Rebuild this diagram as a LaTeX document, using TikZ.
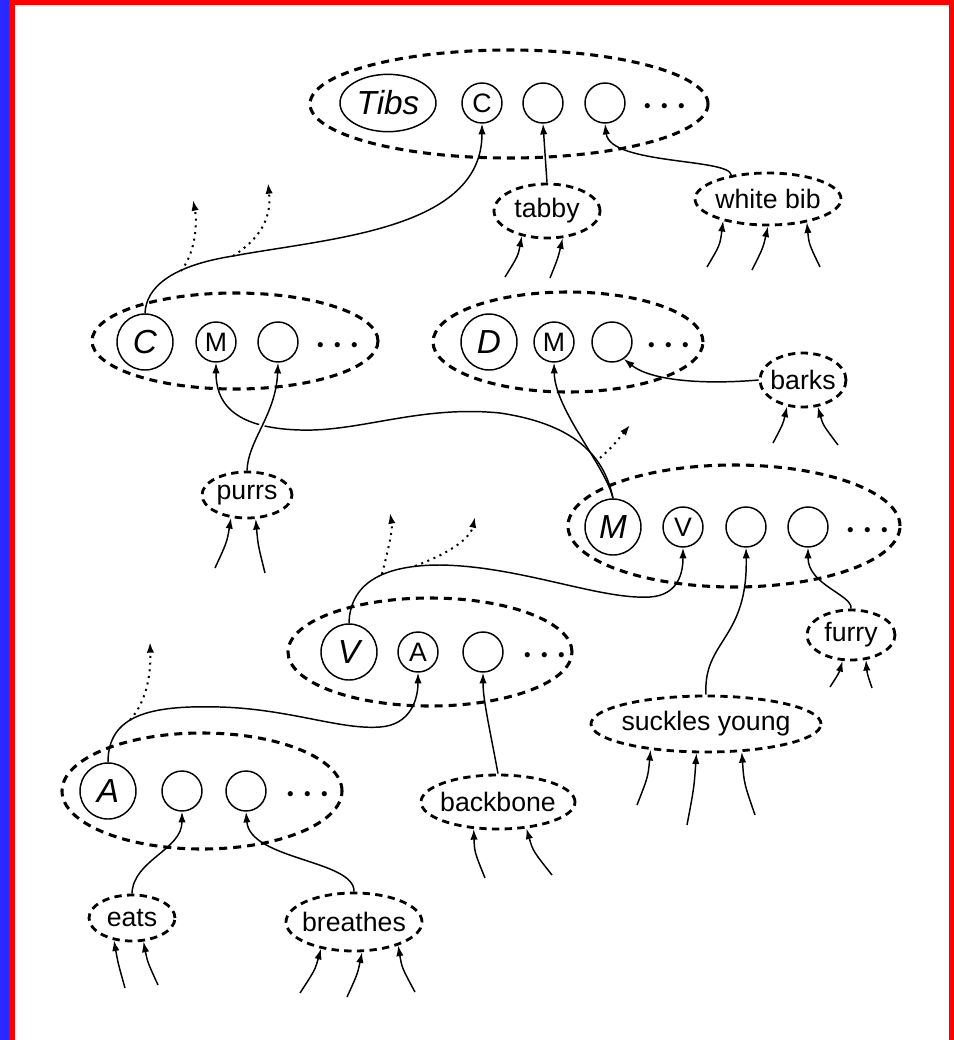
\documentclass[tikz,border=0pt]{standalone}
\usepackage{fontspec}
\setmainfont{Liberation Sans}
\usetikzlibrary{arrows.meta,shapes.geometric}
\definecolor{edgeblue}{RGB}{40,40,255}
\begin{document}
\begin{tikzpicture}[x=0.75pt,y=-0.75pt,
  grp/.style={draw, ellipse, line width=2.3pt, dash pattern=on 6pt off 4.5pt, inner sep=0pt},
  lbl/.style={draw, ellipse, line width=2.1pt, dash pattern=on 5.5pt off 4pt, inner xsep=-3pt, inner ysep=0pt, font=\fontsize{20}{24}\selectfont},
  big/.style={draw, circle, line width=1.1pt, minimum size=42pt, inner sep=0pt, font=\fontsize{25}{30}\selectfont\itshape},
  sm/.style={draw, circle, line width=1.1pt, minimum size=30pt, inner sep=0pt, font=\fontsize{20}{24}\selectfont},
  dts/.style={inner sep=0pt, font=\fontsize{33}{38}\selectfont\boldmath},
  conn/.style={line width=1.1pt, -{Latex[length=8pt,width=5.5pt]}},
  dotarr/.style={line width=1.5pt, dash pattern=on 1.5pt off 3.5pt, -{Latex[length=8pt,width=5.5pt]}},
]
\useasboundingbox (0,0) rectangle (954,1040);
\fill[edgeblue] (0,0) rectangle (9,1040);
\fill[red] (9,0) rectangle (15,1040);
\fill[red] (9,0) rectangle (954,5);
\fill[red] (949,0) rectangle (954,1040);

% Tibs group
\node[grp, minimum width=298.5pt, minimum height=81pt] (gT) at (509,104) {};
\node[draw, ellipse, line width=1.1pt, minimum width=72pt, minimum height=43pt, inner sep=0pt, font=\fontsize{25}{30}\selectfont\itshape] (tibs) at (388,103) {Tibs};
\node[sm] (tC) at (482,103) {C};
\node[sm] (t2) at (543,103) {};
\node[sm] (t3) at (605,103) {};
\node[dts] (tdots) at (665,107) {$\cdots$};

% C group
\node[grp, minimum width=214.5pt, minimum height=72pt] (gC) at (235,341) {};
\node[big] (cC) at (145,342) {C};
\node[sm] (cM) at (216,342) {M};
\node[sm] (c3) at (278,342) {};
\node[dts] (cdots) at (338,346) {$\cdots$};

% D group
\node[grp, minimum width=202.5pt, minimum height=75pt] (gD) at (568,342) {};
\node[big] (dD) at (489,342) {D};
\node[sm] (dM) at (554,342) {M};
\node[sm] (d3) at (612,342) {};
\node[dts] (ddots) at (669,346) {$\cdots$};

% M group
\node[grp, minimum width=249pt, minimum height=91.5pt] (gM) at (734,526) {};
\node[big] (mM) at (613,527) {M};
\node[sm] (mV) at (683,527) {V};
\node[sm] (m3) at (746,527) {};
\node[sm] (m4) at (808,527) {};
\node[dts] (mdots) at (868,531) {$\cdots$};

% V group
\node[grp, minimum width=213pt, minimum height=81pt] (gV) at (430,652) {};
\node[big] (vV) at (349,652) {V};
\node[sm] (vA) at (418,652) {A};
\node[sm] (v3) at (483,652) {};
\node[dts] (vdots) at (545,656) {$\cdots$};

% A group
\node[grp, minimum width=210pt, minimum height=87pt] (gA) at (202,791) {};
\node[big] (aA) at (108,791) {A};
\node[sm] (a2) at (182,791) {};
\node[sm] (a3) at (246,791) {};
\node[dts] (adots) at (308,795) {$\cdots$};

% property labels
\node[lbl, minimum width=79.5pt, minimum height=40.5pt] (tabby) at (547,211) {tabby};
\node[lbl, minimum width=109.5pt, minimum height=39pt] (wbib) at (768,199) {white bib};
\node[lbl, minimum width=64.5pt, minimum height=40.5pt] (barks) at (803,380) {barks};
\node[lbl, minimum width=67.5pt, minimum height=34.5pt] (purrs) at (247,495) {purrs};
\node[lbl, minimum width=66pt, minimum height=37.5pt] (furry) at (851,635) {furry};
\node[lbl, minimum width=172.5pt, minimum height=42pt] (suckles) at (706,724) {suckles young};
\node[lbl, minimum width=115.5pt, minimum height=40.5pt] (backbone) at (498,802) {backbone};
\node[lbl, minimum width=64.5pt, minimum height=34.5pt] (eats) at (132,918) {eats};
\node[lbl, minimum width=102pt, minimum height=43.5pt] (breathes) at (354,922) {breathes};

% main connectors
\draw[conn] (cC.north) .. controls (146,288) and (170,266) .. (233,256) .. controls (330,238) and (482,230) .. (tC.south);
\draw[conn] (tabby.north) -- (t2.south);
\draw[conn] (wbib.147) .. controls (730,158) and (610,165) .. (t3.south);
\draw[conn] (mM.north) .. controls (605,460) and (580,425) .. (500,413) .. controls (420,405) and (360,432) .. (300,430) .. controls (230,428) and (216,400) .. (cM.south);
\draw[conn] (mM.north) .. controls (605,465) and (555,410) .. (dM.south);
\draw[white, line width=4pt] (258.4,433.2) -- (265.6,416.8);
\draw[conn] (purrs.north) .. controls (248,440) and (276,415) .. (c3.south);
\draw[conn] (barks.west) .. controls (700,385) and (650,380) .. (d3.-55);
\draw[conn] (vV.north) .. controls (350,585) and (380,565) .. (440,565) .. controls (520,566) and (600,600) .. (650,597) .. controls (680,595) and (683,570) .. (mV.south);
\draw[conn] (suckles.north) .. controls (703,640) and (748,640) .. (m3.south);
\draw[conn] (furry.north) .. controls (853,595) and (808,585) .. (m4.south);
\draw[conn] (aA.north) .. controls (108,715) and (150,705) .. (220,707) .. controls (290,709) and (340,730) .. (380,727) .. controls (410,725) and (418,700) .. (vA.south);
\draw[conn] (backbone.north) .. controls (490,730) and (483,700) .. (v3.south);
\draw[conn] (eats.north) .. controls (133,860) and (182,850) .. (a2.south);
\draw[conn] (breathes.north) .. controls (355,860) and (250,860) .. (a3.south);

% dotted branches
\coordinate (p1) at (181,271); \coordinate (q1) at (193,200);
\coordinate (p2) at (233,256); \coordinate (q2) at (268,183);
\coordinate (p3) at (600,458); \coordinate (q3) at (630,425);
\coordinate (p4) at (382,574); \coordinate (q4) at (390,513);
\coordinate (p5) at (415,566); \coordinate (q5) at (475,517);
\coordinate (p6) at (130,720); \coordinate (q6) at (150,642);
\draw[dotarr] (p1) .. controls (197,250) and (197,220) .. (q1);
\draw[dotarr] (p2) .. controls (258,240) and (272,220) .. (q2);
\draw[dotarr] (p3) .. controls (612,447) .. (q3);
\draw[dotarr] (p4) .. controls (388,550) and (393,530) .. (q4);
\draw[dotarr] (p5) .. controls (445,555) and (470,540) .. (q5);
\draw[dotarr] (p6) .. controls (148,700) and (151,670) .. (q6);

% incoming arrows
\coordinate (ta1) at (505,277); \coordinate (ta2) at (550,278);
\draw[conn] (ta1) .. controls (518,256) .. (tabby.-135);
\draw[conn] (ta2) .. controls (558,258) .. (tabby.-60);
\coordinate (wa1) at (707,267); \coordinate (wa2) at (752,270); \coordinate (wa3) at (820,267);
\draw[conn] (wa1) .. controls (720,245) .. (wbib.-154);
\draw[conn] (wa2) .. controls (763,248) .. (wbib.-90);
\draw[conn] (wa3) .. controls (809,244) .. (wbib.-31);
\coordinate (ba1) at (773,443); \coordinate (ba2) at (838,445);
\draw[conn] (ba1) .. controls (783,424) .. (barks.-121);
\draw[conn] (ba2) .. controls (823,425) .. (barks.-61);
\coordinate (pa1) at (215,568); \coordinate (pa2) at (265,573);
\draw[conn] (pa1) .. controls (227,542) .. (purrs.-125);
\draw[conn] (pa2) .. controls (258,545) .. (purrs.-70);
\coordinate (fa1) at (830,687); \coordinate (fa2) at (872,688);
\draw[conn] (fa1) .. controls (839,673) .. (furry.-108);
\draw[conn] (fa2) .. controls (867,673) .. (furry.-59);
\coordinate (sa1) at (637,805); \coordinate (sa2) at (687,825); \coordinate (sa3) at (755,815);
\draw[conn] (sa1) .. controls (648,777) .. (suckles.-155);
\draw[conn] (sa2) .. controls (694,788) .. (suckles.-108);
\draw[conn] (sa3) .. controls (744,783) .. (suckles.-38);
\coordinate (ka1) at (485,878); \coordinate (ka2) at (552,875);
\draw[conn] (ka1) .. controls (474.5,852) .. (backbone.-132);
\draw[conn] (ka2) .. controls (533,851) .. (backbone.-43);
\coordinate (ea1) at (125,988); \coordinate (ea2) at (158,985);
\draw[conn] (ea1) .. controls (118,963) .. (eats.-129);
\draw[conn] (ea2) .. controls (147.5,962) .. (eats.-64);
\coordinate (ra1) at (300,993); \coordinate (ra2) at (347,997); \coordinate (ra3) at (415,992);
\draw[conn] (ra1) .. controls (315,970) .. (breathes.-141);
\draw[conn] (ra2) .. controls (357.5,974) .. (breathes.-75);
\draw[conn] (ra3) .. controls (402,968) .. (breathes.-28);
\end{tikzpicture}
\end{document}
